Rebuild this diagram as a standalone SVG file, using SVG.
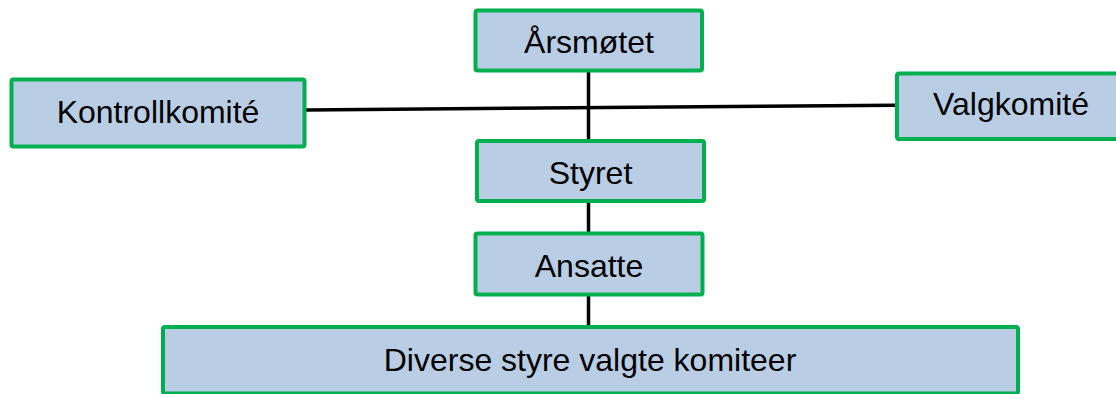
<svg xmlns="http://www.w3.org/2000/svg" width="1116" height="394" viewBox="0 0 1116 394">
  <style>
    .box { fill: #B9CDE5; stroke: #00B050; stroke-width: 4; }
    .lbl { font-family: "Liberation Sans", Arial, sans-serif; font-size: 32px; fill: #000; text-anchor: middle; }
    .con { stroke: #000; stroke-width: 3.5; fill: none; }
  </style>
  <rect width="1116" height="394" fill="#fff"/>
  <g id="connectors">
    <line class="con" x1="588.5" y1="72" x2="588.5" y2="140"/>
    <line class="con" x1="588.5" y1="202" x2="588.5" y2="233"/>
    <line class="con" x1="588.5" y1="295" x2="588.5" y2="326"/>
    <line class="con" x1="306" y1="110" x2="896" y2="105.2"/>
  </g>
  <g id="arsmotet">
    <rect class="box" x="475.5" y="10.5" width="226.5" height="60" rx="2"/>
    <text class="lbl" x="589" y="53">Årsmøtet</text>
  </g>
  <g id="kontrollkomite">
    <rect class="box" x="11.5" y="79.5" width="293" height="67" rx="2"/>
    <text class="lbl" x="158" y="123">Kontrollkomité</text>
  </g>
  <g id="valgkomite">
    <rect class="box" x="897" y="73.5" width="240" height="65.5" rx="2"/>
    <text class="lbl" x="1011" y="115">Valgkomité</text>
  </g>
  <g id="styret">
    <rect class="box" x="477" y="141" width="227" height="60" rx="2"/>
    <text class="lbl" x="590.5" y="183.5">Styret</text>
  </g>
  <g id="ansatte">
    <rect class="box" x="475.5" y="233.5" width="227" height="61" rx="2"/>
    <text class="lbl" x="589" y="276.5">Ansatte</text>
  </g>
  <g id="diverse">
    <rect class="box" x="163" y="327" width="855" height="66.5" rx="2"/>
    <text class="lbl" x="590" y="371">Diverse styre valgte komiteer</text>
  </g>
</svg>
